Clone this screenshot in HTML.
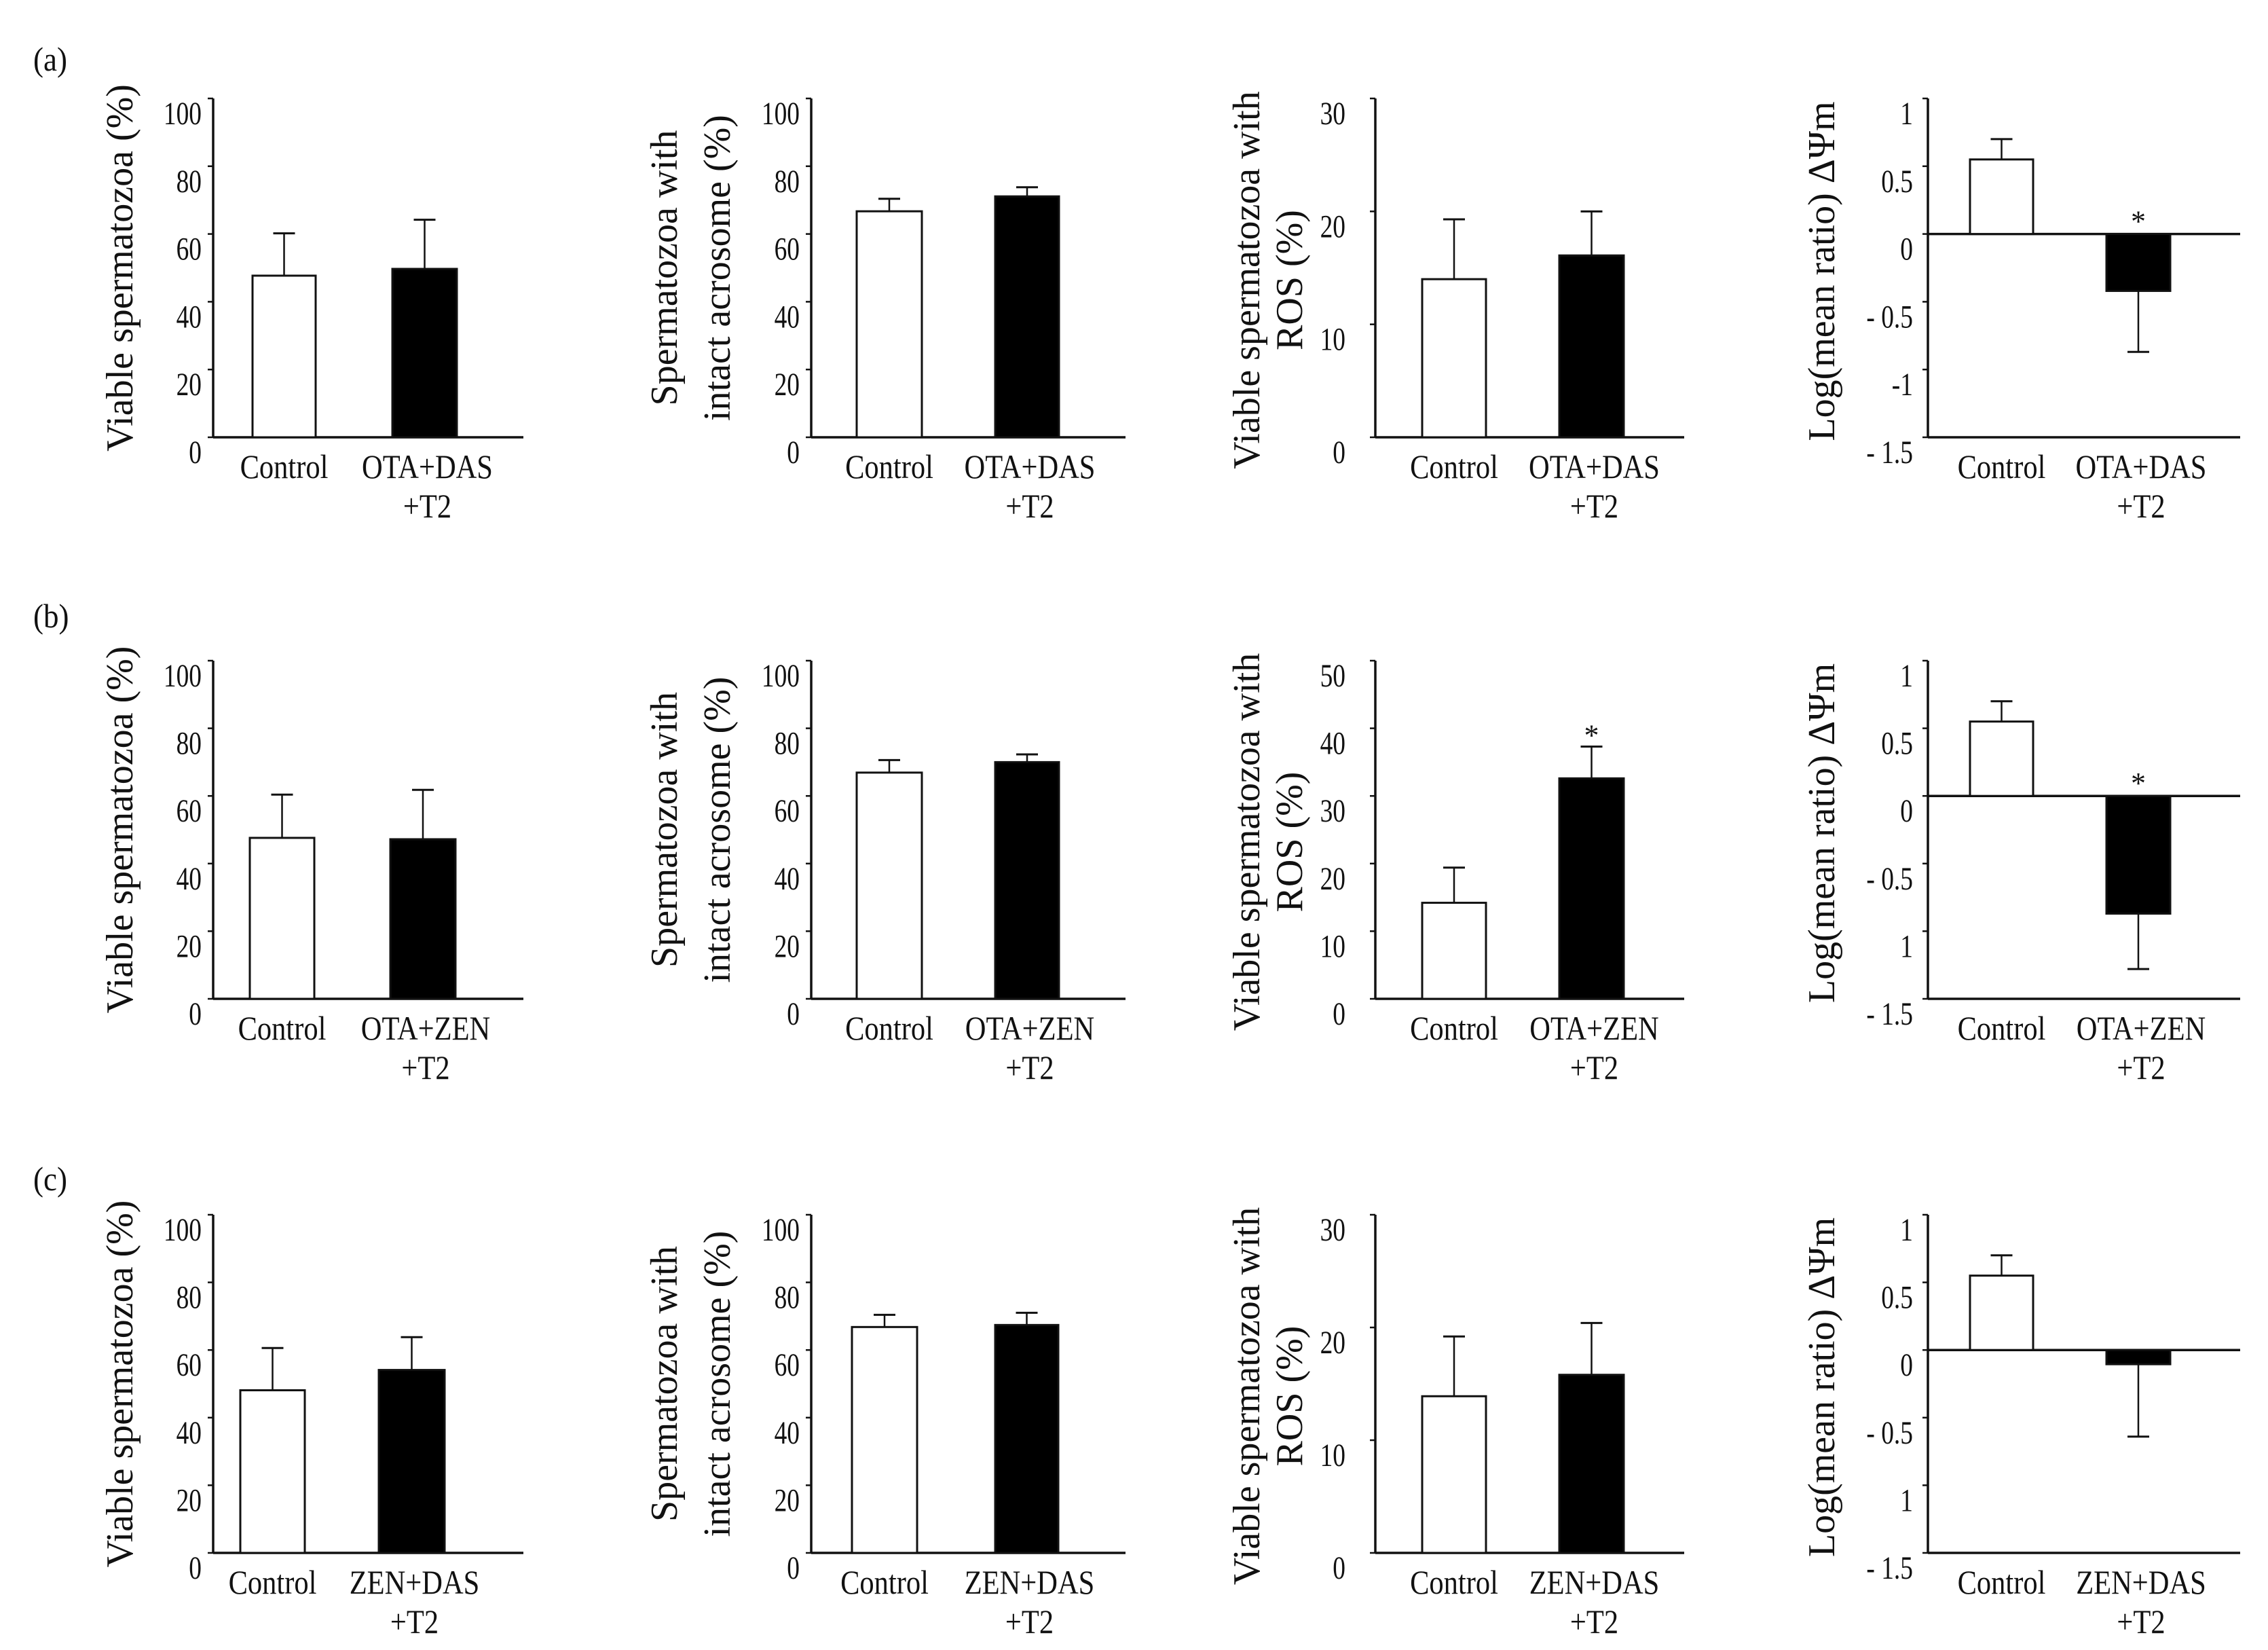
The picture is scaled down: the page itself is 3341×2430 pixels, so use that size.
<!DOCTYPE html>
<html><head><meta charset="utf-8">
<style>
html,body{margin:0;padding:0;background:#fff;}
svg{display:block;}
text{font-family:"Liberation Serif",serif;fill:#111;}
</style></head>
<body>
<svg id="fig" xmlns="http://www.w3.org/2000/svg" width="3341" height="2430" viewBox="0 0 3341 2430"></svg>
<script>
// ---- data ----
const panelLetters = ["(a)", "(b)", "(c)"];
const treatmentNames = ["OTA+DAS", "OTA+ZEN", "ZEN+DAS"];
const controlLabel = "Control";
const suffixLabel = "+T2";
// viable spermatozoa (%): [control, treatment] per row
const viableMeans = [[47.7, 49.7], [47.6, 47.2], [48.1, 54.1]];
const viableErrTop = [[60.2, 64.2], [60.4, 61.8], [60.6, 63.8]];
// intact acrosome (%)
const acrosomeMeans = [[66.7, 71.1], [66.9, 70.0], [66.8, 67.4]];
const acrosomeErrTop = [[70.4, 73.8], [70.6, 72.3], [70.4, 71.0]];
// viable with ROS (%)
const rosMeans = [[14.0, 16.1], [14.2, 32.6], [13.9, 15.8]];
const rosErrTop = [[19.3, 20.0], [19.4, 37.3], [19.2, 20.4]];
const rosMax = [30, 50, 30];
const rosStar = [[false, false], [false, true], [false, false]];
// log(mean ratio) dPsi m
const mmpMeans = [[0.55, -0.42], [0.55, -0.87], [0.55, -0.105]];
const mmpErrEnd = [[0.70, -0.87], [0.70, -1.28], [0.70, -0.64]];
const mmpStar = [[false, true], [false, true], [false, false]];
const pctTicks = [0, 20, 40, 60, 80, 100];
const rosTicks30 = [0, 10, 20, 30];
const rosTicks50 = [0, 10, 20, 30, 40, 50];
const mmpTicks = [-1.5, -1, -0.5, 0, 0.5, 1];
const mmpTickLabelsA = ["- 1.5", "-1", "- 0.5", "0", "0.5", "1"];
const mmpTickLabelsBC = ["- 1.5", "1", "- 0.5", "0", "0.5", "1"];

// ---- layout (geometry, not data) ----
const NS = "http://www.w3.org/2000/svg";
const svg = document.getElementById("fig");
const rowTop = [145, 973, 1789];
const rowBot = [644, 1471, 2287];
const letterY = [104, 924, 1753];
const cols = [
  {ax: 314, end: 771, b1: [372, 465], b2: [578, 673], tr: 297, titles: [[177, "Viable  spermatozoa (%)"]], tdy: 0},
  {ax: 1195, end: 1658, b1: [1262, 1358], b2: [1466, 1560], tr: 1178, titles: [[979, "Spermatozoa with"], [1057, "intact acrosome (%)"]], tdy: 0},
  {ax: 2026, end: 2481, b1: [2095, 2189], b2: [2297, 2392], tr: 1982, titles: [[1837, "Viable  spermatozoa with"], [1900, "ROS (%)"]], tdy: 18},
  {ax: 2840, end: 3300, b1: [2902, 2995], b2: [3103, 3197], tr: 2818, titles: [[2684, "Log(mean ratio)  \u0394\u03A8m"]], tdy: 5}
];
// per-row bar position overrides {row: {col: [b1,b2]}}
const barOverrides = {1: {0: [[368, 463], [575, 671]]}, 2: {0: [[354, 449], [558, 655]], 1: [[1255, 1351], [1466, 1559]]}};

function el(tag, attrs, parent) {
  const e = document.createElementNS(NS, tag);
  for (const k in attrs) e.setAttribute(k, attrs[k]);
  (parent || svg).appendChild(e);
  return e;
}
function txt(x, y, s, size, anchor, parent, name, sx) {
  const t = el("text", {x: 0, y: 0, "font-size": size, "text-anchor": anchor || "middle"}, parent);
  t.setAttribute("transform", "translate(" + x + "," + y + ") scale(" + (sx || 1) + ",1)");
  t.textContent = s;
  
  
  return t;
}
function line(x1, y1, x2, y2, w, parent) {
  return el("line", {x1: x1, y1: y1, x2: x2, y2: y2, stroke: "#111", "stroke-width": w}, parent);
}

function drawPanel(r, c, ticks, tickLabels, vmin, vmax, means, errs, stars, zeroBased) {
  const col = cols[c];
  const ov = barOverrides[r] && barOverrides[r][c];
  const bars = ov ? ov : [col.b1, col.b2];
  const g = el("g", {});
  
  
  const top = rowTop[r], bot = rowBot[r];
  const y = v => bot - (v - vmin) / (vmax - vmin) * (bot - top);
  const yaxis = line(col.ax, top, col.ax, bot, 3.5, g);
  
  
  ticks.forEach((t, i) => {
    line(col.ax - 8, y(t), col.ax, y(t), 2.5, g);
    txt(col.tr, y(t) + 38, tickLabels[i], 48, "end", g, 'y-tick-label', 0.78);
  });
  const xaxis = line(col.ax, bot, col.end, bot, 3.5, g);
  
  
  const base = zeroBased ? y(0) : bot;
  if (zeroBased) {
    const zl = line(col.ax, base, col.end, base, 3.5, g);
    
    
  }
  means.forEach((m, i) => {
    const bx = bars[i];
    const ym = y(m);
    const rect = el("rect", {x: bx[0], y: Math.min(ym, base), width: bx[1] - bx[0], height: Math.abs(base - ym),
      fill: i === 0 ? "#fff" : "#000", stroke: "#111", "stroke-width": 3}, g);
    
    
    const cx = (bx[0] + bx[1]) / 2;
    const ye = y(errs[i]);
    const eb = el("g", {}, g);
    
    
    line(cx, ym, cx, ye, 2.5, eb);
    line(cx - 16, ye, cx + 16, ye, 3, eb);
    if (stars[i]) {
      const sy = errs[i] < 0 ? base - 18 : ye - 16;
      txt(cx, sy + 14, "*", 44, "middle", g, 'significance-star');
    }
  });
  txt((bars[0][0] + bars[0][1]) / 2, bot + 60, controlLabel, 50, "middle", g, 'x-label-control', 0.85);
  const c2 = (bars[1][0] + bars[1][1]) / 2 + 4;
  txt(c2, bot + 60, treatmentNames[r], 50, "middle", g, 'x-label-treatment', 0.85);
  txt(c2, bot + 118, suffixLabel, 50, "middle", g, 'x-label-treatment-suffix', 0.85);
  const midY = (top + bot) / 2 + col.tdy;
  col.titles.forEach(tt => {
    const t = el("text", {x: 0, y: 0, "font-size": 56, "text-anchor": "middle"}, g);
    t.textContent = tt[1];
    
    
    t.setAttribute("transform", "translate(" + (tt[0] + 18) + "," + midY + ") rotate(-90)");
  });
}

for (let r = 0; r < 3; r++) {
  txt(49, letterY[r], panelLetters[r], 50, "start", svg, 'panel-letter', 0.9);
  drawPanel(r, 0, pctTicks, pctTicks.map(String), 0, 100, viableMeans[r], viableErrTop[r], [false, false], false);
  drawPanel(r, 1, pctTicks, pctTicks.map(String), 0, 100, acrosomeMeans[r], acrosomeErrTop[r], [false, false], false);
  const rt = rosMax[r] === 50 ? rosTicks50 : rosTicks30;
  drawPanel(r, 2, rt, rt.map(String), 0, rosMax[r], rosMeans[r], rosErrTop[r], rosStar[r], false);
  drawPanel(r, 3, mmpTicks, r === 0 ? mmpTickLabelsA : mmpTickLabelsBC, -1.5, 1, mmpMeans[r], mmpErrEnd[r], mmpStar[r], true);
}
</script>
</body></html>
